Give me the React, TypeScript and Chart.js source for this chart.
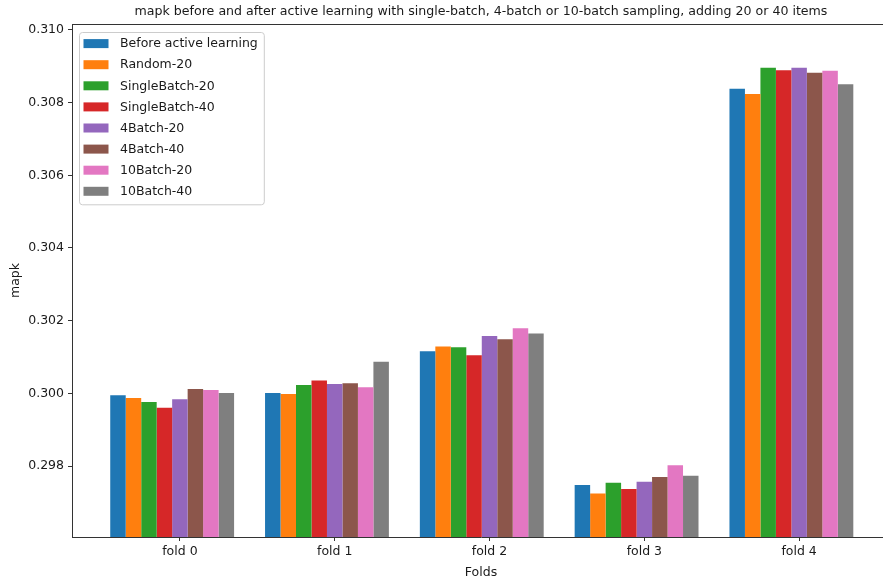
import { useEffect, useRef } from 'react';
import { Chart, registerables } from 'chart.js';

Chart.register(...registerables);

// Categories and series (mapk per fold)
const folds = ['fold 0', 'fold 1', 'fold 2', 'fold 3', 'fold 4'];
const seriesNames = [
  'Before active learning',
  'Random-20',
  'SingleBatch-20',
  'SingleBatch-40',
  '4Batch-20',
  '4Batch-40',
  '10Batch-20',
  '10Batch-40',
];
const seriesColors = ['#1f77b4', '#ff7f0e', '#2ca02c', '#d62728', '#9467bd', '#8c564b', '#e377c2', '#7f7f7f'];

const beforeAL = [0.29995, 0.30001, 0.30116, 0.29748, 0.30838];
const random20 = [0.29987, 0.29998, 0.30129, 0.29724, 0.30824];
const singleBatch20 = [0.29976, 0.30023, 0.30127, 0.29754, 0.30896];
const singleBatch40 = [0.2996, 0.30035, 0.30105, 0.29737, 0.30889];
const batch4_20 = [0.29984, 0.30026, 0.30158, 0.29757, 0.30896];
const batch4_40 = [0.30012, 0.30028, 0.30149, 0.2977, 0.30882];
const batch10_20 = [0.30009, 0.30017, 0.30179, 0.29802, 0.30888];
const batch10_40 = [0.30001, 0.30087, 0.30165, 0.29773, 0.30851];

const seriesValues = [beforeAL, random20, singleBatch20, singleBatch40, batch4_20, batch4_40, batch10_20, batch10_40];

const yTicks = [0.298, 0.3, 0.302, 0.304, 0.306, 0.308, 0.31];
const yMin = 0.296046;
const yMax = 0.310165;
const xMin = -0.697;
const xMax = 4.587;
// bar groups sit half a bar width left of each fold tick
const groupShift = -0.05;

const titleText =
  'mapk before and after active learning with single-batch, 4-batch or 10-batch sampling, adding 20 or 40 items';

const FONT_FAMILY = '"DejaVu Sans", sans-serif';
const FONT_SIZE = 12.5;
const TITLE_SIZE = 12.6;
const TEXT_COLOR = '#1a1a1a';
const AXIS_COLOR = '#333333';

// Draws the title, the top spine and the framed legend in the upper left.
const decorPlugin = {
  id: 'decor',
  afterDraw(chart: any) {
    const { ctx, chartArea } = chart;
    const { left, right, top } = chartArea;
    ctx.save();

    // title
    ctx.font = `${TITLE_SIZE}px ${FONT_FAMILY}`;
    ctx.fillStyle = TEXT_COLOR;
    ctx.textAlign = 'center';
    ctx.textBaseline = 'middle';
    ctx.fillText(titleText, (left + right) / 2, top - 12);

    // top spine
    ctx.strokeStyle = AXIS_COLOR;
    ctx.lineWidth = 1;
    ctx.beginPath();
    ctx.moveTo(left, Math.round(top) + 0.5);
    ctx.lineTo(right, Math.round(top) + 0.5);
    ctx.stroke();

    // legend
    ctx.font = `${FONT_SIZE}px ${FONT_FAMILY}`;
    let maxW = 0;
    seriesNames.forEach((n) => {
      maxW = Math.max(maxW, ctx.measureText(n).width);
    });
    const x0 = left + 7;
    const y0 = top + 8;
    const rowH = 21.1;
    const swatchX = x0 + 4.5;
    const swatchW = 25;
    const swatchH = 9;
    const textX = swatchX + swatchW + 11.5;
    const boxW = textX + maxW + 6 - x0;
    const firstRow = y0 + 11.6;
    const boxH = firstRow + rowH * (seriesNames.length - 1) + 13 - y0;

    ctx.beginPath();
    ctx.roundRect(x0 + 0.5, y0 + 0.5, boxW, boxH, 3);
    ctx.fillStyle = 'rgba(255,255,255,0.8)';
    ctx.fill();
    ctx.strokeStyle = '#cccccc';
    ctx.lineWidth = 1;
    ctx.stroke();

    ctx.textAlign = 'left';
    ctx.textBaseline = 'middle';
    seriesNames.forEach((n, i) => {
      const cy = firstRow + i * rowH;
      ctx.fillStyle = seriesColors[i];
      ctx.fillRect(swatchX, cy - swatchH / 2, swatchW, swatchH);
      ctx.fillStyle = TEXT_COLOR;
      ctx.fillText(n, textX, cy + 0.5);
    });

    ctx.restore();
  },
};

export default function App() {
  const canvasRef = useRef<HTMLCanvasElement>(null);

  useEffect(() => {
    const canvas = canvasRef.current;
    if (!canvas) return;
    const font = { family: FONT_FAMILY, size: FONT_SIZE };

    const chart = new Chart(canvas, {
      type: 'bar',
      data: {
        datasets: seriesNames.map((name, s) => ({
          label: name,
          data: seriesValues[s].map((v, i) => ({ x: i + groupShift, y: v })),
          backgroundColor: seriesColors[s],
          borderWidth: 0,
          categoryPercentage: 0.8,
          barPercentage: 1.0,
        })),
      },
      options: {
        responsive: false,
        animation: false,
        devicePixelRatio: 1,
        layout: { padding: { left: 0, right: 0, top: 24, bottom: 0 } },
        plugins: {
          legend: { display: false },
          title: { display: false },
          tooltip: { enabled: false },
        },
        scales: {
          x: {
            type: 'linear',
            min: xMin,
            max: xMax,
            offset: false,
            afterBuildTicks: (scale: any) => {
              scale.ticks = folds.map((_, i) => ({ value: i }));
            },
            afterFit: (scale: any) => {
              scale.height = 47;
            },
            ticks: {
              autoSkip: false,
              maxRotation: 0,
              padding: 3,
              font,
              color: TEXT_COLOR,
              callback: (v: any) => folds[Number(v)] ?? '',
            },
            grid: {
              offset: false,
              drawOnChartArea: false,
              drawTicks: true,
              tickLength: 4,
              tickColor: AXIS_COLOR,
              tickWidth: 1,
            },
            border: { display: true, color: AXIS_COLOR, width: 1 },
            title: {
              display: true,
              text: 'Folds',
              font,
              color: TEXT_COLOR,
              padding: { top: 0, bottom: 4 },
            },
          },
          y: {
            type: 'linear',
            min: yMin,
            max: yMax,
            beginAtZero: false,
            afterBuildTicks: (scale: any) => {
              scale.ticks = yTicks.map((v) => ({ value: v }));
            },
            afterFit: (scale: any) => {
              scale.width = 72;
            },
            ticks: {
              padding: 4,
              font,
              color: TEXT_COLOR,
              callback: (v: any) => Number(v).toFixed(3),
            },
            grid: {
              drawOnChartArea: false,
              drawTicks: true,
              tickLength: 4,
              tickColor: AXIS_COLOR,
              tickWidth: 1,
            },
            border: { display: true, color: AXIS_COLOR, width: 1 },
            title: {
              display: true,
              text: 'mapk',
              font,
              color: TEXT_COLOR,
              padding: { top: 8, bottom: 0 },
            },
          },
        },
      },
      plugins: [decorPlugin],
    } as any);

    return () => chart.destroy();
  }, []);

  // The axes box is 890px wide; the frame shows the first 883px of it.
  return (
    <div
      style={{
        position: 'fixed',
        left: 0,
        top: 0,
        width: 883,
        height: 584,
        overflow: 'hidden',
        background: '#ffffff',
      }}
    >
      <canvas ref={canvasRef} width={890} height={584} style={{ display: 'block', width: 890, height: 584 }} />
    </div>
  );
}
